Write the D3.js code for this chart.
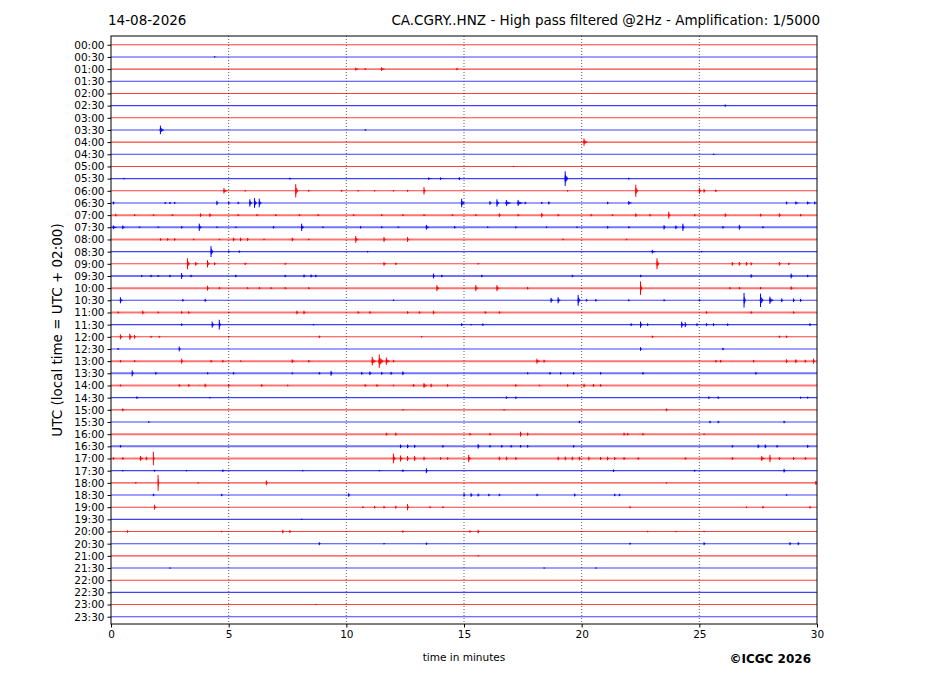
<!DOCTYPE html>
<html>
<head>
<meta charset="utf-8">
<script src="https://cdn.jsdelivr.net/npm/d3@7"></script>
<style>
  body { margin: 0; background: #fff; }
  text { font-family: "DejaVu Sans", sans-serif; }
</style>
</head>
<body>
<svg id="heli" width="927" height="696"></svg>
<script>
var svgWidth = 927;
var svgHeight = 696;

var dateLabel = "14-08-2026";
var titleLabel = "CA.CGRY..HNZ - High pass filtered @2Hz - Amplification: 1/5000";

// y tick labels, one per 30 min row
var rowLabels = [
  "00:00","00:30","01:00","01:30","02:00","02:30","03:00","03:30",
  "04:00","04:30","05:00","05:30","06:00","06:30","07:00","07:30",
  "08:00","08:30","09:00","09:30","10:00","10:30","11:00","11:30",
  "12:00","12:30","13:00","13:30","14:00","14:30","15:00","15:30",
  "16:00","16:30","17:00","17:30","18:00","18:30","19:00","19:30",
  "20:00","20:30","21:00","21:30","22:00","22:30","23:00","23:30"
];
var xTicks = [0, 5, 10, 15, 20, 25, 30];
var gridMinutes = [5, 10, 15, 20, 25];

// baseline noise level per row (rows with busier background)
var noisyRows = [14, 15, 16, 19, 20, 22, 26, 27, 28, 32, 33, 34];

// bursts: [minute, amplitude (rows), duration (min)]
var events = [
  /*00:00*/ [],
  /*00:30*/ [[4.4,0.05,0.2]],
  /*01:00*/ [[10.4,0.12,0.3],[10.8,0.08],[11.5,0.15,0.3],[14.7,0.1,0.1]],
  /*01:30*/ [],
  /*02:00*/ [],
  /*02:30*/ [[26.1,0.1,0.1]],
  /*03:00*/ [],
  /*03:30*/ [[2.1,0.35,0.3],[10.8,0.06]],
  /*04:00*/ [[20.1,0.3,0.3]],
  /*04:30*/ [[25.6,0.05,0.3]],
  /*05:00*/ [[17.1,0.05]],
  /*05:30*/ [[0.55,0.06],[7.6,0.08],[13.5,0.1,0.3],[14.0,0.1,0.3],[14.8,0.12],[19.3,0.6,0.25],[22.0,0.08]],
  /*06:00*/ [[4.8,0.22,0.3],[5.7,0.06],[7.85,0.55,0.2],[8.4,0.08],[9.8,0.08],[10.5,0.06],[11.2,0.06],[12.0,0.06],[12.6,0.08],[13.3,0.3,0.15],[19.4,0.06],[22.3,0.5,0.2],[25.0,0.25,0.2],[25.2,0.15],[25.7,0.1]],
  /*06:30*/ [[0.1,0.12],[2.3,0.08],[2.5,0.08],[2.7,0.08],[4.5,0.18],[5.0,0.1],[5.4,0.1],[5.9,0.3,0.2],[6.1,0.4,0.2],[6.3,0.35,0.2],[14.9,0.35,0.25],[16.1,0.15],[16.4,0.3,0.2],[16.8,0.25,0.4],[17.3,0.25,0.4],[17.6,0.1],[18.3,0.08],[18.6,0.12],[21.1,0.1],[22.0,0.15,0.3],[28.7,0.12],[29.1,0.12,0.3],[29.6,0.12,0.3],[29.9,0.12]],
  /*07:00*/ [[0.2,0.1],[1.0,0.08],[1.8,0.08],[2.6,0.08],[3.8,0.15],[4.2,0.15],[5.4,0.08],[6.2,0.08],[7.0,0.08],[8.0,0.08],[8.8,0.08],[10.3,0.08],[11.5,0.08],[12.4,0.08],[13.3,0.08],[14.5,0.08],[15.5,0.08],[16.5,0.15],[17.3,0.1],[18.3,0.18],[19.0,0.1],[20.4,0.1],[21.3,0.08],[22.3,0.15],[22.9,0.1],[23.7,0.28],[24.8,0.1],[26.1,0.15],[27.6,0.12],[28.4,0.15],[29.3,0.1]],
  /*07:30*/ [[0.1,0.15,0.3],[0.5,0.15,0.2],[1.2,0.06],[2.0,0.06],[3.0,0.1],[3.75,0.3,0.2],[4.5,0.06],[5.3,0.06],[6.9,0.1],[8.1,0.3,0.2],[9.0,0.06],[10.6,0.1],[11.5,0.08],[12.2,0.06],[13.4,0.2,0.25],[14.6,0.1],[16.0,0.06],[17.2,0.08],[18.5,0.06],[19.8,0.06],[21.1,0.1],[22.0,0.08],[23.5,0.18],[24.0,0.15],[24.3,0.3,0.15],[26.0,0.1],[26.7,0.2],[27.7,0.08]],
  /*08:00*/ [[2.1,0.1],[2.4,0.1],[2.7,0.1],[3.5,0.06],[4.6,0.06],[5.2,0.15,0.2],[5.5,0.15],[5.8,0.12],[6.5,0.06],[7.7,0.15],[8.4,0.06],[10.4,0.28,0.2],[11.6,0.2],[12.6,0.2],[19.2,0.06],[21.9,0.06]],
  /*08:30*/ [[4.25,0.45,0.2],[5.0,0.1],[5.45,0.1],[10.9,0.06],[23.0,0.15,0.3],[25.1,0.06]],
  /*09:00*/ [[3.25,0.45,0.2],[3.6,0.15,0.2],[4.1,0.3,0.2],[4.4,0.12],[5.7,0.1],[7.4,0.08],[11.6,0.15,0.2],[12.1,0.1],[15.6,0.06],[23.2,0.45,0.2],[26.4,0.15],[26.7,0.15],[27.0,0.15],[27.2,0.12],[28.4,0.15],[28.8,0.1]],
  /*09:30*/ [[1.3,0.08],[1.7,0.1],[2.0,0.08],[2.5,0.1],[3.0,0.25],[3.4,0.1],[5.3,0.1],[7.4,0.1],[8.2,0.12],[8.5,0.12],[8.7,0.1],[13.7,0.2],[14.05,0.1],[15.75,0.1],[19.6,0.1],[22.5,0.1],[27.2,0.15],[28.9,0.2],[29.6,0.1]],
  /*10:00*/ [[4.1,0.2],[4.6,0.1],[5.8,0.08],[6.3,0.1],[6.8,0.08],[7.4,0.1],[8.4,0.08],[13.85,0.25,0.2],[15.5,0.25,0.2],[16.4,0.25,0.2],[17.7,0.1],[22.5,0.55,0.15],[26.3,0.1],[26.7,0.1],[27.6,0.1],[28.9,0.15]],
  /*10:30*/ [[0.4,0.25,0.2],[3.05,0.1],[4.0,0.12],[12.0,0.06],[18.7,0.2,0.2],[19.0,0.25,0.2],[19.85,0.45,0.2],[20.2,0.1],[20.6,0.1],[22.0,0.08],[23.5,0.08],[25.0,0.1],[26.9,0.6,0.15],[27.6,0.55,0.25],[28.0,0.3,0.3],[28.5,0.15],[29.0,0.15],[29.3,0.12]],
  /*11:00*/ [[0.3,0.08],[1.35,0.15],[2.0,0.08],[3.0,0.1],[3.3,0.1],[5.0,0.06],[7.9,0.15],[8.2,0.15],[10.5,0.1],[11.0,0.1],[12.6,0.1],[13.1,0.1],[13.7,0.15],[15.9,0.1],[16.5,0.1],[25.3,0.1],[27.2,0.1],[29.0,0.1]],
  /*11:30*/ [[3.0,0.1],[4.3,0.25,0.2],[4.6,0.4,0.15],[8.6,0.06],[14.9,0.12],[15.3,0.06],[15.8,0.1],[22.1,0.12],[22.5,0.25,0.2],[22.8,0.1],[24.25,0.25,0.2],[24.4,0.2],[24.9,0.12],[25.3,0.12],[25.6,0.12],[26.2,0.1],[29.7,0.12]],
  /*12:00*/ [[0.4,0.2,0.2],[0.8,0.25,0.2],[1.0,0.15],[1.7,0.08],[2.05,0.08],[5.0,0.06],[8.85,0.1],[13.2,0.06],[23.0,0.1],[28.4,0.1],[28.7,0.1]],
  /*12:30*/ [[0.3,0.08],[2.9,0.2],[22.5,0.15],[26.0,0.1]],
  /*13:00*/ [[0.4,0.1],[1.0,0.08],[3.0,0.2],[4.25,0.1],[4.75,0.1],[5.5,0.06],[7.7,0.15,0.2],[8.4,0.1],[11.1,0.35,0.3],[11.4,0.55,0.35],[11.7,0.3,0.3],[12.0,0.1],[18.1,0.2,0.3],[18.4,0.12],[25.7,0.1],[25.9,0.1],[27.3,0.1],[28.7,0.15],[29.1,0.15],[29.5,0.12],[29.85,0.2]],
  /*13:30*/ [[0.9,0.25],[1.9,0.1],[4.1,0.08],[5.2,0.1],[7.7,0.08],[8.85,0.1],[9.35,0.2],[10.65,0.12],[11.0,0.15],[11.5,0.12],[11.9,0.12],[12.4,0.15],[17.7,0.08],[18.65,0.1],[19.1,0.1],[19.65,0.1],[20.8,0.1],[22.6,0.1],[27.4,0.1]],
  /*14:00*/ [[0.4,0.08],[2.9,0.1],[3.3,0.1],[4.0,0.15],[5.0,0.1],[6.4,0.1],[7.5,0.06],[10.8,0.1],[11.3,0.1],[12.0,0.06],[12.85,0.12],[13.3,0.2,0.25],[13.6,0.15],[14.3,0.1],[17.2,0.1],[18.2,0.06],[19.4,0.1],[20.1,0.15],[20.5,0.12],[20.8,0.1]],
  /*14:30*/ [[1.1,0.1],[4.2,0.06],[16.8,0.1],[17.2,0.1],[25.4,0.1],[25.8,0.1],[29.3,0.08],[29.6,0.08]],
  /*15:00*/ [[0.5,0.12],[12.4,0.06],[16.7,0.06],[23.6,0.12]],
  /*15:30*/ [[1.6,0.06],[19.9,0.1],[25.45,0.1],[25.8,0.1],[28.6,0.1]],
  /*16:00*/ [[11.7,0.12],[12.1,0.12],[15.25,0.1],[16.1,0.1],[17.4,0.2],[17.7,0.12],[21.8,0.12],[21.95,0.1],[22.6,0.1],[25.2,0.06]],
  /*16:30*/ [[0.4,0.1],[12.3,0.15],[12.6,0.15],[12.9,0.12],[14.1,0.1],[15.6,0.18],[16.1,0.1],[16.6,0.1],[17.0,0.1],[17.4,0.1],[17.7,0.1],[19.65,0.1],[26.4,0.1],[27.5,0.15],[27.8,0.15],[28.3,0.1],[29.6,0.12]],
  /*17:00*/ [[0.1,0.1],[0.5,0.1],[1.25,0.2,0.25],[1.5,0.15],[1.8,0.55,0.1],[12.0,0.4,0.2],[12.3,0.25,0.2],[12.6,0.2],[12.9,0.2],[13.3,0.15],[14.0,0.1],[14.3,0.1],[15.2,0.3,0.2],[16.5,0.15],[16.8,0.15],[17.2,0.12],[19.0,0.15],[19.3,0.15],[19.6,0.15],[19.9,0.15],[20.3,0.15],[20.8,0.12],[21.1,0.15],[21.4,0.12],[21.8,0.12],[22.4,0.1],[24.4,0.1],[26.4,0.12],[27.65,0.2,0.3],[28.0,0.3,0.1],[28.4,0.12],[29.0,0.12],[29.5,0.12]],
  /*17:30*/ [[0.5,0.06],[1.85,0.08],[3.2,0.06],[4.75,0.1],[8.15,0.06],[11.4,0.06],[12.4,0.1],[13.4,0.2],[21.35,0.1],[24.8,0.08],[28.6,0.15]],
  /*18:00*/ [[1.05,0.06],[2.0,0.65,0.1],[3.7,0.06],[6.6,0.2],[23.6,0.06],[29.95,0.15]],
  /*18:30*/ [[1.8,0.1],[4.7,0.1],[10.1,0.15],[15.0,0.15],[15.3,0.15],[15.6,0.12],[16.05,0.1],[16.5,0.1],[18.1,0.1],[19.7,0.12],[21.4,0.1],[21.6,0.1],[28.7,0.06]],
  /*19:00*/ [[1.85,0.2],[10.7,0.08],[11.2,0.1],[11.6,0.1],[12.1,0.12],[12.6,0.25],[13.55,0.08],[14.1,0.08],[22.05,0.08],[27.0,0.06],[27.7,0.1],[29.7,0.1]],
  /*19:30*/ [[8.1,0.05]],
  /*20:00*/ [[0.7,0.1],[4.7,0.06],[7.3,0.15],[7.6,0.12],[12.4,0.1],[15.25,0.1],[15.6,0.15],[22.8,0.06],[24.0,0.06],[25.2,0.06]],
  /*20:30*/ [[8.85,0.12],[11.6,0.06],[13.4,0.1],[22.05,0.08],[25.2,0.12],[28.85,0.12],[29.2,0.12]],
  /*21:00*/ [[15.6,0.05]],
  /*21:30*/ [[2.5,0.05],[18.4,0.05],[20.6,0.05]],
  /*22:00*/ [],
  /*22:30*/ [],
  /*23:00*/ [[8.7,0.05]],
  /*23:30*/ []
];

var margin = {left: 111, right: 110, top: 36, bottom: 72};
var plotW = svgWidth - margin.left - margin.right;
var plotH = svgHeight - margin.top - margin.bottom;

var x = d3.scaleLinear().domain([0, 30]).range([margin.left, margin.left + plotW]);
var y = d3.scaleLinear().domain([-0.72, 47.6]).range([margin.top, margin.top + plotH]);

var svg = d3.select("#heli");

function rowColor(i){
  return i % 2 === 0 ? "#ff0000" : "#0000ff";
}

// clip to the axes box
svg.append("clipPath").attr("id", "plotclip")
  .append("rect")
  .attr("x", margin.left).attr("y", margin.top)
  .attr("width", plotW).attr("height", plotH);

var plot = svg.append("g").attr("clip-path", "url(#plotclip)");

// baselines
plot.selectAll("line.base")
  .data(rowLabels)
  .enter()
  .append("line")
  .attr("class", "base")
  .attr("x1", x(0)).attr("x2", x(30))
  .attr("y1", function(d, i){ return y(i); })
  .attr("y2", function(d, i){ return y(i); })
  .attr("stroke", function(d, i){ return rowColor(i); })
  .attr("stroke-opacity", function(d, i){ return noisyRows.indexOf(i) >= 0 ? 0.55 : 0.75; })
  .attr("stroke-width", function(d, i){ return noisyRows.indexOf(i) >= 0 ? 2 : 1.1; });

// flatten bursts
var bursts = [];
events.forEach(function(list, row){
  list.forEach(function(e){
    bursts.push({row: row, t: e[0], amp: e[1], dur: e.length > 2 ? e[2] : 0.15});
  });
});

var line = d3.line()
  .x(function(p){ return x(p[0]); })
  .y(function(p){ return y(p[1]); });

// burst envelope: sharp onset, longer coda
plot.selectAll("path.burst")
  .data(bursts)
  .enter()
  .append("path")
  .attr("class", "burst")
  .attr("d", function(d){
    var t0 = d.t - d.dur * 0.15, t1 = d.t + d.dur * 0.55;
    return line([[t0, d.row], [d.t, d.row - d.amp * 0.6], [t1, d.row], [d.t, d.row + d.amp * 0.6]]) + "Z";
  })
  .attr("fill", function(d){ return rowColor(d.row); })
  .attr("fill-opacity", 0.85)
  .attr("stroke", "none");

// peak excursion of each burst
plot.selectAll("line.peak")
  .data(bursts)
  .enter()
  .append("line")
  .attr("class", "peak")
  .attr("x1", function(d){ return x(d.t); })
  .attr("x2", function(d){ return x(d.t); })
  .attr("y1", function(d){ return y(d.row - d.amp); })
  .attr("y2", function(d){ return y(d.row + d.amp); })
  .attr("stroke", function(d){ return rowColor(d.row); })
  .attr("stroke-width", 1);

// dotted vertical grid
plot.selectAll("line.grid")
  .data(gridMinutes)
  .enter()
  .append("line")
  .attr("class", "grid")
  .attr("x1", function(d){ return x(d); })
  .attr("x2", function(d){ return x(d); })
  .attr("y1", margin.top).attr("y2", margin.top + plotH)
  .attr("stroke", "#333")
  .attr("stroke-width", 0.8)
  .attr("stroke-dasharray", "1,2");

// axes
var yAxis = d3.axisLeft(y)
  .tickValues(d3.range(rowLabels.length))
  .tickFormat(function(i){ return rowLabels[i]; })
  .tickSize(3.5).tickPadding(3);
var gy = svg.append("g").attr("transform", "translate(" + margin.left + ",0)").call(yAxis);
gy.select(".domain").remove();
gy.selectAll("text").attr("font-size", "10.5px").attr("font-family", "DejaVu Sans").attr("fill", "#000");

var xAxis = d3.axisBottom(x).tickValues(xTicks).tickFormat(d3.format("d")).tickSize(3.5).tickPadding(3);
var gx = svg.append("g").attr("transform", "translate(0," + (margin.top + plotH) + ")").call(xAxis);
gx.select(".domain").remove();
gx.selectAll("text").attr("font-size", "10.5px").attr("font-family", "DejaVu Sans").attr("fill", "#000");

// frame
svg.append("rect")
  .attr("x", margin.left).attr("y", margin.top)
  .attr("width", plotW).attr("height", plotH)
  .attr("fill", "none").attr("stroke", "#000").attr("stroke-width", 1);

// texts
svg.append("text").attr("x", 108).attr("y", 25)
  .attr("font-size", "13.5px").text(dateLabel);
svg.append("text").attr("x", 820).attr("y", 25).attr("text-anchor", "end")
  .attr("font-size", "13.5px").text(titleLabel);
svg.append("text")
  .attr("transform", "translate(62," + (margin.top + plotH / 2) + ") rotate(-90)")
  .attr("text-anchor", "middle").attr("font-size", "13.5px")
  .text("UTC (local time = UTC + 02:00)");
svg.append("text").attr("x", x(15)).attr("y", 661).attr("text-anchor", "middle")
  .attr("font-size", "10.5px").text("time in minutes");
svg.append("text").attr("x", 811).attr("y", 663).attr("text-anchor", "end")
  .attr("font-size", "12px").attr("font-weight", "bold").text("\u00A9ICGC 2026");
</script>
</body>
</html>
